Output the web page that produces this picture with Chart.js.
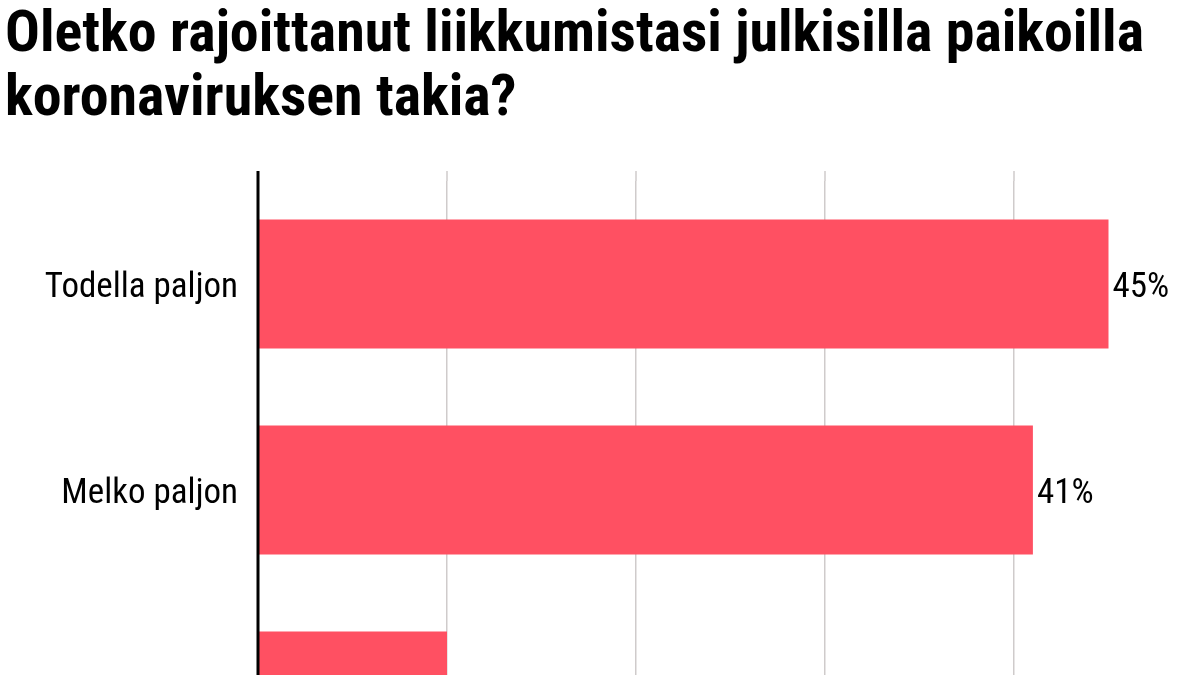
<!DOCTYPE html>
<html>
<head>
<meta charset="utf-8">
<script src="https://cdn.jsdelivr.net/npm/chart.js@4"></script>
<style>
  html, body { margin: 0; padding: 0; background: #fff; width: 1200px; height: 675px; overflow: hidden; position: relative; }
  .title { position: absolute; left: 5px; font-family: "Roboto Condensed", Roboto, sans-serif; font-weight: 700; font-size: 58px; line-height: 65px; color: #000; white-space: nowrap; transform-origin: 0 0; }
  #wrap { position: absolute; left: 0; top: 0; width: 1210px; height: 840px; }
</style>
</head>
<body>
<div class="title" id="t1" style="top:-1px">Oletko rajoittanut liikkumistasi julkisilla paikoilla</div>
<div class="title" id="t2" style="top:63px">koronaviruksen takia?</div>
<div id="wrap"><canvas id="c"></canvas></div>
<script>
const categories = ["Todella paljon", "Melko paljon", "Melko vähän"];
const values = [45, 41, 10];
const valueSuffix = "%";
const gridValues = [10, 20, 30, 40];

// fit title line to the reference width
(function () {
  const t1 = document.getElementById('t1');
  const t2 = document.getElementById('t2');
  const w = t1.getBoundingClientRect().width;
  const s = 1139 / w;
  t1.style.transform = 'scaleX(' + s + ')';
  t2.style.transform = 'scaleX(' + s + ')';
})();

const FONT = '"Roboto Condensed", Roboto, sans-serif';

const extras = {
  id: 'extras',
  afterDraw(chart) {
    const ctx = chart.ctx;
    const xs = chart.scales.x;
    const top = chart.chartArea.top;
    const bottom = chart.chartArea.bottom;
    ctx.save();
    ctx.strokeStyle = '#cfcbcb';
    ctx.lineWidth = 1.5;
    gridValues.forEach(v => {
      const x = xs.getPixelForValue(v);
      ctx.beginPath();
      ctx.moveTo(x, top - 10);
      ctx.lineTo(x, top);
      ctx.stroke();
    });
    const x0 = xs.getPixelForValue(0);
    ctx.strokeStyle = '#000';
    ctx.lineWidth = 3;
    ctx.beginPath();
    ctx.moveTo(x0, top - 10);
    ctx.lineTo(x0, bottom);
    ctx.stroke();
    ctx.fillStyle = '#000';
    ctx.font = '35px ' + FONT;
    ctx.textAlign = 'left';
    ctx.textBaseline = 'middle';
    const meta = chart.getDatasetMeta(0);
    meta.data.forEach((bar, i) => {
      ctx.fillText(values[i] + valueSuffix, bar.x + 4, bar.y + 4);
    });
    ctx.restore();
  }
};

new Chart(document.getElementById('c'), {
  type: 'bar',
  data: {
    labels: categories,
    datasets: [{
      data: values,
      backgroundColor: '#ff5062',
      borderWidth: 0,
      categoryPercentage: 1,
      barPercentage: 0.627
    }]
  },
  options: {
    indexAxis: 'y',
    responsive: true,
    maintainAspectRatio: false,
    animation: false,
    layout: { padding: { top: 181, right: 7, bottom: 0, left: 0 } },
    plugins: { legend: { display: false }, tooltip: { enabled: false } },
    scales: {
      x: {
        min: 0, max: 50,
        ticks: { display: false, stepSize: 10 },
        border: { display: false },
        grid: {
          drawTicks: false,
          lineWidth: 1.5,
          color: ctx => (ctx.tick && gridValues.includes(ctx.tick.value)) ? '#cfcbcb' : 'rgba(0,0,0,0)'
        },
        afterFit: s => { s.height = 0; }
      },
      y: {
        border: { display: false },
        grid: { display: false, drawTicks: false },
        ticks: { color: '#000', padding: 20, labelOffset: 4, font: { family: FONT, size: 35 } },
        afterFit: s => { s.width = 258; }
      }
    }
  },
  plugins: [extras]
});
</script>
</body>
</html>
